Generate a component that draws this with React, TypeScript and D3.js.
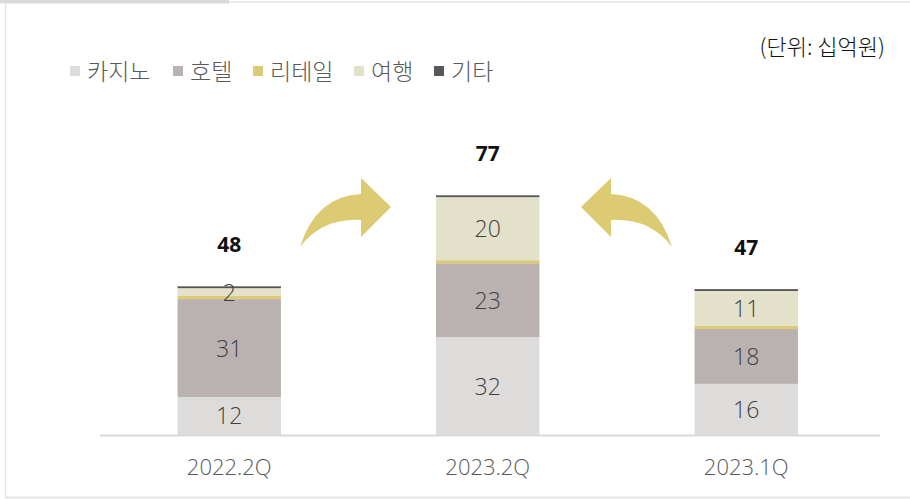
import React from "react";
import * as d3 from "d3";

const categories = ["2022.2Q", "2023.2Q", "2023.1Q"];
const seriesNames = ["카지노", "호텔", "리테일", "여행", "기타"];
const casino = [12.2, 31.4, 16.4];
const hotel = [31.4, 23.7, 17.6];
const retail = [1.0, 1.0, 1.0];
const travel = [2.5, 20.2, 11.2];
const other = [0.6, 0.6, 0.6];
const segLabels = [
  ["12", "32", "16"],
  ["31", "23", "18"],
  [null, null, null],
  ["2", "20", "11"],
  [null, null, null],
];
const totals = ["48", "77", "47"];
const unitLabel = "(단위: 십억원)";

const colors = ["#dedcdb", "#bab2b1", "#dccb73", "#e4e1cb", "#58565a"];
const FONT = "'Noto Sans CJK KR', 'Noto Sans', sans-serif";
const NUMFONT = "'Open Sans', 'Noto Sans', sans-serif";

export default function App() {
  const W = 910, H = 500;
  const series = [casino, hotel, retail, travel, other];
  const x = d3.scaleBand().domain(categories).range([100, 875.5]).paddingInner(0.6).paddingOuter(0.3);
  const y = d3.scaleLinear().domain([0, 80]).range([435, 435 - 80 * 3.117]);

  const rows = categories.map((c, i) => {
    const r: any = { cat: c };
    seriesNames.forEach((s, k) => (r[s] = series[k][i]));
    return r;
  });
  const stacked = d3.stack().keys(seriesNames)(rows);

  const legendX = [70, 173, 253, 354, 434];
  const arrowPath = "M300,247 Q316,196 361,194 L361,178 L391,207 L361,237 L361,220 Q322,218 300,247 Z";

  return (
    <svg width={W} height={H} style={{ position: "absolute", left: 0, top: 0, display: "block", background: "#fff" }} fontFamily={FONT}>
      {/* frame */}
      <rect x={0} y={0} width={229} height={3.5} fill="#d9d9d9" />
      <line x1={229} x2={W} y1={2} y2={2} stroke="#e3e3e3" strokeWidth={1.5} />
      <line x1={5.5} x2={5.5} y1={3} y2={497} stroke="#e3e3e3" strokeWidth={1.5} />
      <line x1={5} x2={W} y1={497.5} y2={497.5} stroke="#e3e3e3" strokeWidth={2} />

      {/* unit */}
      <text x={885} y={55} textAnchor="end" fontSize={22} fill="#111" fontWeight={300}>{unitLabel}</text>

      {/* legend */}
      {seriesNames.map((s, k) => (
        <g key={s}>
          <rect x={legendX[k]} y={66} width={10} height={10} fill={colors[k]} />
          <text x={legendX[k] + 17} y={80} fontSize={23} fill="#595959" fontWeight={300}>{s}</text>
        </g>
      ))}

      {/* bars */}
      {stacked.map((layer, k) => (
        <g key={layer.key} fill={colors[k]}>
          {layer.map((d, i) => (
            <rect key={i} x={x(categories[i])!} width={x.bandwidth()} y={y(d[1])} height={y(d[0]) - y(d[1])} />
          ))}
        </g>
      ))}

      {/* segment labels */}
      {stacked.map((layer, k) =>
        layer.map((d, i) => {
          const lab = segLabels[k][i];
          if (!lab) return null;
          return (
            <text key={k + "-" + i} x={x(categories[i])! + x.bandwidth() / 2} y={(y(d[0]) + y(d[1])) / 2 + 8.5}
              textAnchor="middle" fontSize={23} fill="#404040" fontWeight={300} fontFamily={NUMFONT}>{lab}</text>
          );
        })
      )}

      {/* totals */}
      {categories.map((c, i) => {
        const top = stacked[stacked.length - 1][i][1];
        return (
          <text key={c} x={x(c)! + x.bandwidth() / 2} y={y(top) - 34} textAnchor="middle" fontSize={21} fontWeight="bold" fill="#111" fontFamily={NUMFONT}>{totals[i]}</text>
        );
      })}

      {/* axis */}
      <line x1={100} x2={880} y1={435.5} y2={435.5} stroke="#d9d9d9" strokeWidth={2} />
      {categories.map((c) => (
        <text key={c} x={x(c)! + x.bandwidth() / 2} y={475} textAnchor="middle" fontSize={22} fill="#595959" fontWeight={300} fontFamily={NUMFONT}>{c}</text>
      ))}

      {/* arrows */}
      <path d={arrowPath} fill="#dccb73" />
      <path d={arrowPath} fill="#dccb73" transform="translate(972,0) scale(-1,1)" />
    </svg>
  );
}
